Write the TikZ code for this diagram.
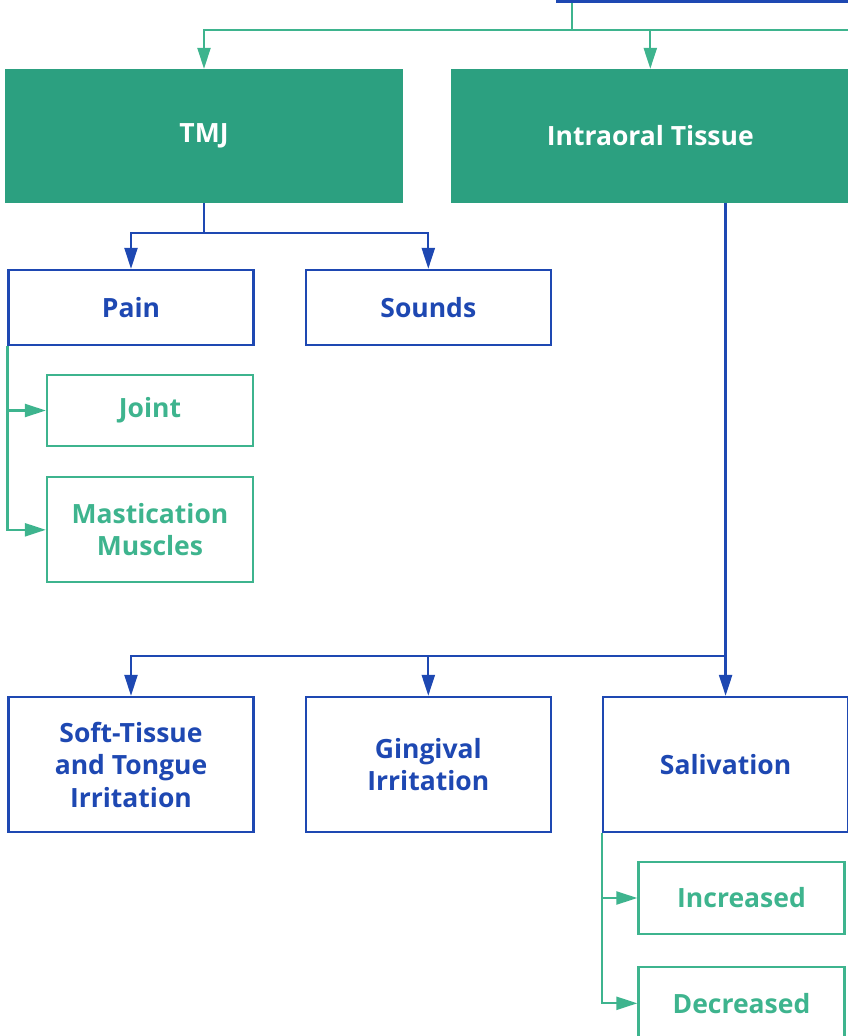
\documentclass[tikz,border=0pt]{standalone}
\usepackage{fontspec}
\setmainfont{Open Sans}
\usetikzlibrary{arrows.meta,positioning,calc}
\definecolor{tealfill}{RGB}{44,160,128}
\definecolor{tealline}{RGB}{62,180,142}
\definecolor{navy}{RGB}{30,72,178}

\begin{document}
\begin{tikzpicture}[
  x=1pt,y=-1pt,
  box/.style={draw,line width=2.3pt,align=center,inner sep=0pt,
              font=\fontsize{26.5}{32.5}\selectfont\bfseries},
  main/.style={box,fill=tealfill,draw=tealfill,text=white,
               minimum width=396pt,minimum height=132pt},
  sub/.style={box,draw=navy,text=navy,minimum width=245pt},
  leaf/.style={box,draw=tealline,text=tealline,minimum width=206pt},
  ar/.style={-{Triangle[length=21pt,width=13pt]},line width=2.3pt}
]
\useasboundingbox (0,0) rectangle (848,1036);

\node[box,fill=navy,draw=navy,minimum width=300pt,minimum height=40pt] (root) at (707,-18) {};
\node[main] (tmj) at (204,136) {TMJ};
\node[main,right=48pt of tmj] (intra) {Intraoral Tissue};

\node[sub,minimum height=75pt] (pain) at (131,307.5) {Pain};
\node[sub,minimum height=75pt,right=50pt of pain] (sounds) {Sounds};
\node[leaf,minimum height=71pt] (joint) at (150,410.5) {Joint};
\node[leaf,minimum height=105pt,below=29pt of joint] (mast) {Mastication\\Muscles};

\node[sub,minimum height=135pt] (soft) at (131,764.5) {Soft-Tissue\\and Tongue\\Irritation};
\node[sub,minimum height=135pt,right=50pt of soft] (ging) {Gingival\\Irritation};
\node[sub,minimum height=135pt,right=50pt of ging] (saliv) {Salivation};
\node[leaf,minimum height=72pt] (incr) at (741.5,898) {Increased};
\node[leaf,minimum height=72pt,below=31pt of incr] (decr) {Decreased};

% top level
\coordinate (split) at (572,30);
\coordinate (offright) at (860,30);
\draw[tealline,line width=2.3pt] (split |- root.south) -- (split) -- (offright);
\draw[ar,tealline] (split) -| (tmj.north);
\draw[ar,tealline] (split) -| (intra.north);

% TMJ branch
\path (tmj.south) ++(0,30) coordinate (tmjsplit);
\draw[navy,line width=2.3pt] (tmj.south) -- (tmjsplit);
\draw[ar,navy] (tmjsplit) -| (pain.north);
\draw[ar,navy] (tmjsplit) -| (sounds.north);
\draw[ar,tealline] (pain.south west) |- (joint.west);
\draw[ar,tealline] (pain.south west) |- (mast.west);

% intraoral branch
\path (saliv.north) ++(0,-40) coordinate (branch);
\draw[ar,navy] (intra.south -| saliv.north) -- (saliv.north);
\draw[ar,navy] (branch) -| (soft.north);
\draw[ar,navy] (branch) -| (ging.north);
\draw[ar,tealline] (saliv.south west) |- (incr.west);
\draw[ar,tealline] (saliv.south west) |- (decr.west);
\end{tikzpicture}
\end{document}
